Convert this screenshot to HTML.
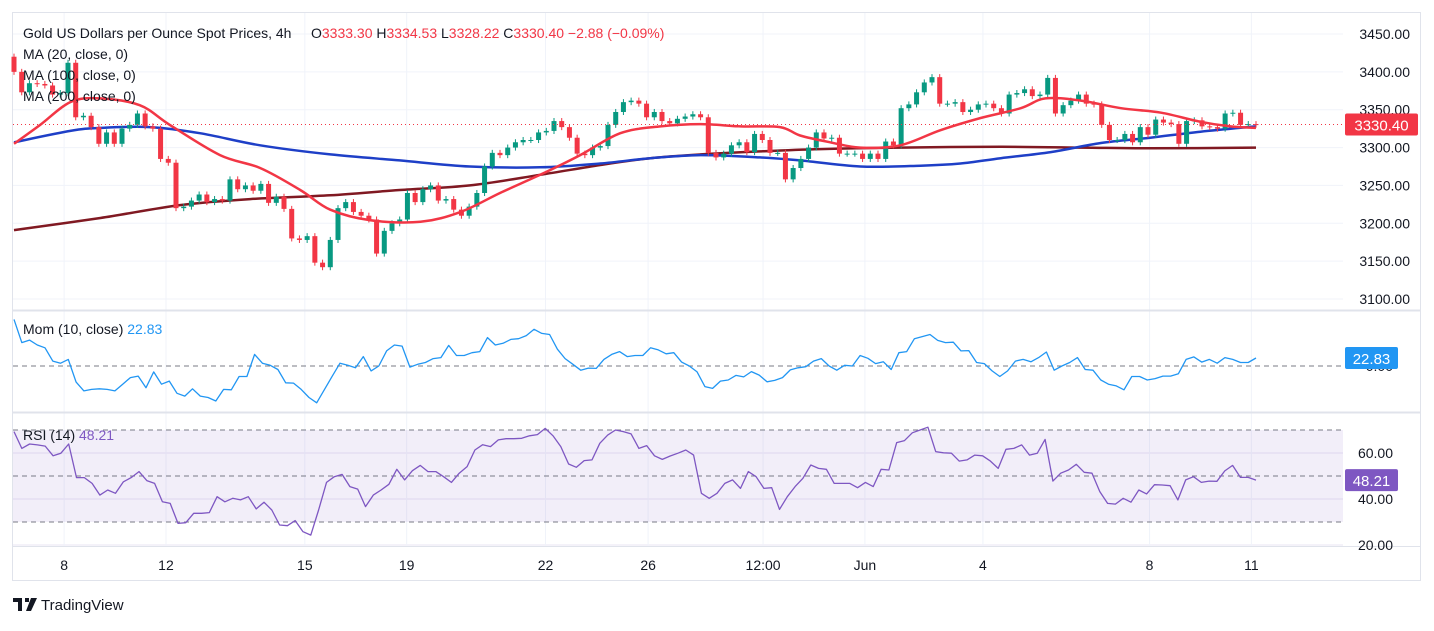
<!DOCTYPE html>
<html><head><meta charset="utf-8">
<style>
html,body{margin:0;padding:0;background:#fff;}
svg text{font-family:"Liberation Sans","DejaVu Sans",sans-serif;}
</style></head>
<body>
<svg id="chart" width="1434" height="626" viewBox="0 0 1434 626" xmlns="http://www.w3.org/2000/svg">
  <rect x="0" y="0" width="1434" height="626" fill="#ffffff"/>
  <rect x="12.5" y="12.5" width="1408" height="568" fill="none" stroke="#e0e3eb"/>
  <g id="grid"></g>
  <rect x="13" y="430" width="1330" height="92" fill="#7e57c2" fill-opacity="0.1"/>
  <g id="marks"></g>
  <line x1="13" y1="310.5" x2="1420" y2="310.5" stroke="#e0e3eb" stroke-width="2"/>
  <line x1="13" y1="412.5" x2="1420" y2="412.5" stroke="#e0e3eb" stroke-width="2"/>
  <line x1="13" y1="546.5" x2="1420" y2="546.5" stroke="#e0e3eb"/>
  <g id="axes"></g>
  <g font-size="14">
    <text x="23" y="38" fill="#131722">Gold US Dollars per Ounce Spot Prices, 4h</text>
    <text x="311" y="38" fill="#131722">O<tspan fill="#f23645">3333.30</tspan> H<tspan fill="#f23645">3334.53</tspan> L<tspan fill="#f23645">3328.22</tspan> C<tspan fill="#f23645">3330.40</tspan> <tspan fill="#f23645">−2.88 (−0.09%)</tspan></text>
    <text x="23" y="59" fill="#131722">MA (20, close, 0)</text>
    <text x="23" y="80" fill="#131722">MA (100, close, 0)</text>
    <text x="23" y="101" fill="#131722">MA (200, close, 0)</text>
    <text x="23" y="334" fill="#131722">Mom (10, close) <tspan fill="#2196f3">22.83</tspan></text>
    <text x="23" y="440" fill="#131722">RSI (14) <tspan fill="#7e57c2">48.21</tspan></text>
  </g>
  <g>
    <path d="M13 598h9v13h-4v-9h-5z M25 598h4v4h-4z M31 598h6l-6 13h-5z" fill="#131722"/>
    <text x="41" y="610" font-size="15" fill="#131722">TradingView</text>
  </g>
</svg>
<script>
const closes=[3400,3373,3385,3384,3382,3370,3372,3412,3340,3342,3327,3305,3320,3305,3325,3330,3345,3328,3325,3285,3280,3220,3222,3230,3238,3228,3232,3230,3258,3245,3250,3243,3252,3227,3235,3219,3180,3178,3183,3148,3142,3178,3220,3228,3215,3210,3205,3160,3190,3200,3205,3240,3228,3245,3250,3230,3232,3218,3210,3222,3240,3275,3293,3290,3300,
3307,3310,3310,3320,3322,3335,3327,3313,3292,3290,3300,3302,3330,3347,3360,3362,3358,3340,3347,3335,3332,3338,3341,3344,3340,3293,3287,3292,3303,3307,3294,3318,3310,3293,3293,3258,3273,3285,3300,3320,3312,3313,3292,3292,3292,3285,3292,3285,3308,3303,3352,3357,3373,3386,3393,3358,3358,
3360,3347,3350,3357,3358,3352,3345,3370,3372,3377,3368,3370,3392,3345,3356,3362,3370,3358,3357,3330,3310,3310,3318,3307,3327,3317,3337,3333,3331,3305,3335,3336,3328,3327,3325,3345,3346,3330,3331,3330.4];
const firstOpen=3420;
const ma20Idx=[0,3.4,7.3,11.1,16.3,20.2,26.7,31.9,37.1,41,46.2,52.7,57.9,63,68.2,73.4,78.6,83.8,89,94.2,99.3,101.9,105.8,109.7,114.9,120.1,125.3,130.5,133.7,138.3,143.5,148.7,153.8,157.7,161];
const ma20Val=[3305,3330,3360,3365,3356,3330,3290,3273,3244,3218,3204,3202,3215,3240,3264,3290,3319,3328,3331,3328,3327,3316,3307,3300,3303,3323,3339,3352,3365,3362,3352,3346,3334,3328,3326];
const ma100Idx=[0,7.3,11.2,17.6,24.1,31.9,41,50,59.1,68.2,76,82.5,89,96.7,101.9,109.7,117.5,122.7,127.9,134.4,140.9,147.3,153.8,161];
const ma100Val=[3307,3322,3326,3327,3319,3303,3291,3283,3275,3274,3279,3286,3290,3287,3283,3275,3276,3279,3286,3294,3306,3313,3321,3328];
const ma200Idx=[0,11.2,21.5,30.6,41,50,59.1,68.2,76,82.5,89,96.7,104.5,114.9,128,138.3,147.3,161];
const ma200Val=[3191,3207,3224,3232,3237,3244,3250,3264,3277,3286,3291,3295,3298,3300,3301,3300,3299,3300];
const momVals=[133,67,74,60,52,14,8,19,-46,-71,-67,-65,-67,-71,-52,-33,-29,-62,-17,-52,-43,-78,-86,-65,-86,-90,-100,-67,-68,-30,-30,33,8,2,-10,-48,-49,-67,-90,-105,-67,-29,8,2,-5,27,-14,0,43,60,57,-3,5,10,21,24,59,30,30,38,41,81,60,65,76,78,87,105,93,90,48,21,5,-12,-6,-7,19,33,41,27,30,30,52,46,35,38,11,0,-17,-59,-64,-43,
-40,-27,-31,-16,-26,-45,-41,-33,-11,-5,-2,14,21,0,-12,2,0,30,22,7,12,-10,38,41,78,84,90,73,67,68,43,44,10,7,-14,-30,-14,14,19,12,24,40,-12,0,10,24,-10,-12,-40,-52,-57,-68,-30,-30,-40,-36,-29,-29,-22,19,26,11,19,8,24,19,10,10,22.83];
const rsiVals=[69.3,62.0,63.9,63.5,63.0,58.8,59.9,63.9,49.3,49.3,46.8,41.7,43.9,42.5,47.5,49.3,51.9,48.0,46.8,38.8,38.1,29.4,29.7,33.8,33.8,34.1,41.0,38.8,40.3,39.6,41.0,35.7,38.6,35.2,28.7,28.4,30.6,25.8,24.3,35.2,47.2,49.7,50.7,45.4,44.3,36.7,41.7,43.9,46.4,52.9,48.3,52.3,54.6,51.9,51.9,49.7,47.2,51.2,54.1,61.3,63.6,62.8,65.7,66.2,66.2,66.4,67.5,68.0,70.7,67.5,62.8,55.2,53.8,56.7,57.0,64.2,67.8,70.0,69.3,68.3,62.0,63.2,58.8,57.2,58.7,59.9,61.3,59.1,42.5,40.3,42.5,
46.8,48.3,44.6,51.9,49.7,44.6,44.9,35.5,41.0,45.4,49.0,54.8,53.3,52.9,46.8,46.8,46.8,44.9,47.2,45.4,52.9,52.6,64.5,65.4,68.8,70.0,71.2,60.6,60.1,59.9,56.5,57.0,59.1,58.8,56.5,53.3,61.6,62.0,63.5,59.1,59.9,65.9,47.8,51.2,52.6,55.1,51.6,51.2,43.2,38.1,37.8,40.3,38.6,43.9,42.2,46.2,46.1,45.8,39.6,48.3,49.7,47.2,47.8,47.7,52.2,54.6,49.4,49.4,48.21];
const priceTicks=[3100,3150,3200,3250,3300,3350,3400,3450];
const rsiTicks=[20,40,60];
const rsiLevels=[70,50,30];
const timeLabels=["8","12","15","19","22","26","12:00","Jun","4","8","11"];
const timeLabelIdx=[6.5,19.7,37.7,50.9,68.9,82.2,97.1,110.3,125.6,147.2,160.4];

const NS="http://www.w3.org/2000/svg";
const X0=14,X1=1256;
const xOf=i=>X0+i*(X1-X0)/(closes.length-1);
const yPrice=p=>34+(3450-p)*(265/350);
const yMom=v=>366-v*0.35;
const yRsi=v=>499-(v-40)*2.3;
function mk(tag,attrs,parent){const e=document.createElementNS(NS,tag);for(const k in attrs)e.setAttribute(k,attrs[k]);parent.appendChild(e);return e;}
const grid=document.getElementById('grid'),marks=document.getElementById('marks'),axes=document.getElementById('axes');

priceTicks.forEach(t=>{
  const y=yPrice(t);
  const g=mk('line',{x1:13,x2:1343,y1:y,y2:y,stroke:'#f0f3fa'},grid);
  
  
  const tx=mk('text',{x:1410,y:y+5,'text-anchor':'end','font-size':'14',fill:'#131722'},axes);
  tx.textContent=t.toFixed(2);
  
  
});
rsiTicks.forEach(t=>{
  const y=yRsi(t);
  const g=mk('line',{x1:13,x2:1343,y1:y,y2:y,stroke:'#e8e4f3'},grid);
  
  
  const tx=mk('text',{x:1393,y:y+5,'text-anchor':'end','font-size':'14',fill:'#131722'},axes);
  tx.textContent=t.toFixed(2);
  
  
});
timeLabels.forEach((l,k)=>{
  const x=xOf(timeLabelIdx[k]);
  const g=mk('line',{x1:x,x2:x,y1:13,y2:546,stroke:'#f0f3fa'},grid);
  
  
  const tx=mk('text',{x:x,y:570,'text-anchor':'middle','font-size':'14',fill:'#131722'},axes);
  tx.textContent=l;
  
  
});
rsiLevels.forEach(v=>{
  const l=mk('line',{x1:13,x2:1343,y1:yRsi(v),y2:yRsi(v),stroke:'#787b86','stroke-dasharray':'5,4'},marks);
  
  
});
const zl=mk('line',{x1:13,x2:1343,y1:yMom(0),y2:yMom(0),stroke:'#787b86','stroke-dasharray':'5,4'},marks);


const zt=mk('text',{x:1393,y:yMom(0)+5,'text-anchor':'end','font-size':'14',fill:'#131722'},axes);
zt.textContent='0.00';



function smoothD(pts){
  let d='M'+pts[0][0].toFixed(1)+' '+pts[0][1].toFixed(1);
  for(let k=0;k<pts.length-1;k++){
    const p0=pts[Math.max(0,k-1)],p1=pts[k],p2=pts[k+1],p3=pts[Math.min(pts.length-1,k+2)];
    const c1x=p1[0]+(p2[0]-p0[0])/6,c1y=p1[1]+(p2[1]-p0[1])/6;
    const c2x=p2[0]-(p3[0]-p1[0])/6,c2y=p2[1]-(p3[1]-p1[1])/6;
    d+=' C'+c1x.toFixed(1)+' '+c1y.toFixed(1)+' '+c2x.toFixed(1)+' '+c2y.toFixed(1)+' '+p2[0].toFixed(1)+' '+p2[1].toFixed(1);
  }
  return d;
}
function maPath(idx,val,color,w,name){
  const pts=idx.map((i,k)=>[xOf(i),yPrice(val[k])]);
  const p=mk('path',{d:smoothD(pts),fill:'none',stroke:color,'stroke-width':w,'stroke-linejoin':'round'},marks);
  
  
}
maPath(ma200Idx,ma200Val,'#801922',2.5,'ma200-line');
maPath(ma100Idx,ma100Val,'#1e3fc7',2.5,'ma100-line');

closes.forEach((c,i)=>{
  const o=i?closes[i-1]:firstOpen;
  const up=c>=o,col=up?'#089981':'#f23645';
  const x=xOf(i),hi=Math.max(o,c)+4,lo=Math.min(o,c)-4;
  const w=mk('line',{x1:x,x2:x,y1:yPrice(hi),y2:yPrice(lo),stroke:col,'stroke-width':1},marks);
  
  
  const yt=yPrice(Math.max(o,c)),yb=yPrice(Math.min(o,c));
  const b=mk('rect',{x:x-2.5,y:yt,width:5,height:Math.max(1,yb-yt),fill:col},marks);
  
  
});
maPath(ma20Idx,ma20Val,'#f23645',2.5,'ma20-line');

const lp=closes[closes.length-1];
const ll=mk('line',{x1:13,x2:1343,y1:yPrice(lp),y2:yPrice(lp),stroke:'#f23645','stroke-dasharray':'1,3'},marks);



function series(vals,yf,color,name){
  const d=vals.map((v,i)=>(i?'L':'M')+xOf(i*(closes.length-1)/(vals.length-1)).toFixed(1)+' '+yf(v).toFixed(1)).join(' ');
  const p=mk('path',{d:d,fill:'none',stroke:color,'stroke-width':1.3,'stroke-linejoin':'round'},marks);
  
  
}
series(momVals,yMom,'#2196f3','momentum-line');
series(rsiVals,yRsi,'#7e57c2','rsi-line');

function badge(y,txt,color,name,w){
  const g=mk('g',{},axes);
  
  
  mk('rect',{x:1345,y:y-11,width:w,height:22,rx:2,fill:color},g);
  const t=mk('text',{x:1345+w/2,y:y+6,'text-anchor':'middle','font-size':'15',fill:'#fff'},g);
  t.textContent=txt;
}
badge(yPrice(lp),lp.toFixed(2),'#f23645','last-price-badge',73);
badge(yMom(momVals[momVals.length-1]),momVals[momVals.length-1].toFixed(2),'#2196f3','mom-value-badge',53);
badge(yRsi(rsiVals[rsiVals.length-1]),rsiVals[rsiVals.length-1].toFixed(2),'#7e57c2','rsi-value-badge',53);
</script>
</body></html>
